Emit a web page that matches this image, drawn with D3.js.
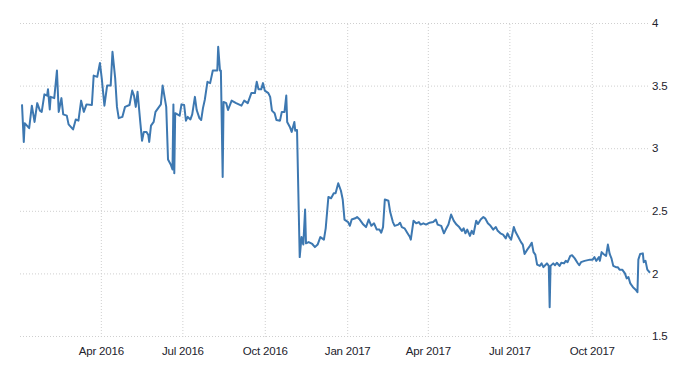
<!DOCTYPE html>
<html>
<head>
<meta charset="utf-8">
<script src="https://cdn.jsdelivr.net/npm/d3@7"></script>
<style>
  body { margin: 0; background: #fff; }
  #chart text { font-family: "Liberation Sans Narrow", "Arial Narrow", "Liberation Sans", Arial, sans-serif; font-size: 11.5px; letter-spacing: -0.2px; fill: #22222c; }
</style>
</head>
<body>
<div id="chart"></div>
<script>
const dates = [
  '2016-01-04','2016-01-06','2016-01-07','2016-01-12','2016-01-15','2016-01-18','2016-01-21','2016-01-24','2016-01-26','2016-01-29',
  '2016-02-01','2016-02-02','2016-02-04','2016-02-05','2016-02-09','2016-02-12','2016-02-14','2016-02-17','2016-02-19','2016-02-23',
  '2016-02-25','2016-03-01','2016-03-04','2016-03-07','2016-03-10','2016-03-13','2016-03-16','2016-03-22','2016-03-24','2016-03-28',
  '2016-03-31','2016-04-02','2016-04-05','2016-04-08','2016-04-12','2016-04-14','2016-04-17','2016-04-19','2016-04-21','2016-04-25',
  '2016-04-28','2016-05-03','2016-05-06','2016-05-08','2016-05-10','2016-05-12','2016-05-15','2016-05-17','2016-05-19','2016-05-22',
  '2016-05-24','2016-05-25','2016-05-27','2016-05-30','2016-06-01','2016-06-04','2016-06-07','2016-06-09','2016-06-13','2016-06-15',
  '2016-06-18','2016-06-20','2016-06-21','2016-06-22','2016-06-23','2016-06-28','2016-06-30','2016-07-03','2016-07-05','2016-07-07',
  '2016-07-10','2016-07-12','2016-07-15','2016-07-17','2016-07-20','2016-07-22','2016-07-24','2016-07-26','2016-07-29','2016-08-01',
  '2016-08-04','2016-08-09','2016-08-10','2016-08-12','2016-08-13','2016-08-15','2016-08-16','2016-08-19','2016-08-21','2016-08-25',
  '2016-08-30','2016-09-05','2016-09-08','2016-09-12','2016-09-16','2016-09-20','2016-09-22','2016-09-24','2016-09-27','2016-09-29',
  '2016-10-01','2016-10-05','2016-10-07','2016-10-09','2016-10-12','2016-10-14','2016-10-18','2016-10-20','2016-10-23','2016-10-25',
  '2016-10-26','2016-10-29','2016-10-31','2016-11-03','2016-11-04','2016-11-06','2016-11-09','2016-11-11','2016-11-13','2016-11-15',
  '2016-11-16','2016-11-19','2016-11-23','2016-11-26','2016-11-29','2016-12-02','2016-12-06','2016-12-08','2016-12-11','2016-12-14',
  '2016-12-17','2016-12-19','2016-12-22','2016-12-25','2016-12-27','2016-12-29','2017-01-02','2017-01-04','2017-01-06','2017-01-10',
  '2017-01-12','2017-01-15','2017-01-19','2017-01-22','2017-01-25','2017-01-28','2017-01-31','2017-02-03','2017-02-06','2017-02-08',
  '2017-02-10','2017-02-12','2017-02-16','2017-02-18','2017-02-21','2017-02-23','2017-02-27','2017-03-01','2017-03-03','2017-03-06',
  '2017-03-09','2017-03-12','2017-03-13','2017-03-16','2017-03-19','2017-03-22','2017-03-24','2017-03-27','2017-03-30','2017-04-03',
  '2017-04-07','2017-04-10','2017-04-12','2017-04-16','2017-04-19','2017-04-21','2017-04-24','2017-04-27','2017-04-30','2017-05-03',
  '2017-05-06','2017-05-09','2017-05-11','2017-05-13','2017-05-15','2017-05-18','2017-05-20','2017-05-22','2017-05-25','2017-05-27',
  '2017-05-30','2017-06-02','2017-06-04','2017-06-07','2017-06-10','2017-06-13','2017-06-16','2017-06-18','2017-06-21','2017-06-24',
  '2017-06-27','2017-06-29','2017-07-01','2017-07-03','2017-07-06','2017-07-08','2017-07-11','2017-07-14','2017-07-16','2017-07-18',
  '2017-07-21','2017-07-24','2017-07-26','2017-07-28','2017-07-30','2017-08-01','2017-08-04','2017-08-06','2017-08-08','2017-08-10',
  '2017-08-12','2017-08-14','2017-08-15','2017-08-16','2017-08-19','2017-08-21','2017-08-23','2017-08-26','2017-08-28','2017-08-31',
  '2017-09-02','2017-09-04','2017-09-07','2017-09-09','2017-09-12','2017-09-15','2017-09-17','2017-09-19','2017-09-23','2017-09-29',
  '2017-10-02','2017-10-04','2017-10-06','2017-10-09','2017-10-10','2017-10-12','2017-10-14','2017-10-17','2017-10-19','2017-10-21',
  '2017-10-23','2017-10-25','2017-10-28','2017-10-30','2017-11-01','2017-11-04','2017-11-07','2017-11-09','2017-11-11','2017-11-13',
  '2017-11-16','2017-11-19','2017-11-21','2017-11-22','2017-11-24','2017-11-27','2017-11-28','2017-11-30','2017-12-02','2017-12-05'
];

const values = [
  3.35, 3.05, 3.20, 3.16, 3.34, 3.21, 3.36, 3.30, 3.29, 3.43,
  3.42, 3.47, 3.31, 3.41, 3.40, 3.62, 3.29, 3.40, 3.27, 3.26,
  3.19, 3.15, 3.23, 3.22, 3.38, 3.29, 3.35, 3.345, 3.58, 3.57,
  3.68, 3.56, 3.34, 3.50, 3.50, 3.77, 3.56, 3.33, 3.24, 3.25,
  3.33, 3.345, 3.46, 3.42, 3.33, 3.45, 3.21, 3.06, 3.13, 3.13,
  3.105, 3.05, 3.18, 3.21, 3.29, 3.32, 3.35, 3.50, 3.33, 2.91,
  2.87, 2.83, 3.35, 2.80, 3.28, 3.26, 3.35, 3.345, 3.22, 3.25,
  3.23, 3.27, 3.41, 3.305, 3.24, 3.225, 3.32, 3.385, 3.53, 3.52,
  3.62, 3.62, 3.81, 3.62, 3.62, 2.77, 3.37, 3.36, 3.305, 3.38,
  3.36, 3.34, 3.38, 3.36, 3.44, 3.44, 3.53, 3.47, 3.47, 3.52,
  3.46, 3.44, 3.41, 3.30, 3.28, 3.225, 3.22, 3.29, 3.29, 3.42,
  3.21, 3.17, 3.13, 3.21, 3.14, 3.145, 2.13, 2.29, 2.23, 2.51,
  2.24, 2.25, 2.235, 2.21, 2.23, 2.29, 2.27, 2.36, 2.61, 2.60,
  2.64, 2.64, 2.72, 2.66, 2.59, 2.43, 2.41, 2.38, 2.43, 2.44,
  2.45, 2.43, 2.39, 2.37, 2.43, 2.38, 2.40, 2.35, 2.35, 2.325,
  2.37, 2.59, 2.58, 2.49, 2.41, 2.38, 2.39, 2.405, 2.37, 2.36,
  2.325, 2.29, 2.27, 2.42, 2.40, 2.41, 2.39, 2.40, 2.39, 2.405,
  2.41, 2.43, 2.39, 2.38, 2.32, 2.35, 2.39, 2.47, 2.42, 2.39,
  2.37, 2.34, 2.36, 2.32, 2.35, 2.30, 2.34, 2.315, 2.42, 2.395,
  2.43, 2.45, 2.44, 2.40, 2.38, 2.35, 2.37, 2.34, 2.32, 2.31,
  2.28, 2.32, 2.29, 2.27, 2.37, 2.33, 2.29, 2.25, 2.23, 2.155,
  2.19, 2.22, 2.245, 2.17, 2.15, 2.07, 2.06, 2.08, 2.05, 2.065,
  2.08, 2.06, 1.73, 2.06, 2.08, 2.065, 2.085, 2.06, 2.085, 2.08,
  2.10, 2.09, 2.14, 2.145, 2.12, 2.085, 2.065, 2.09, 2.10, 2.11,
  2.11, 2.13, 2.10, 2.13, 2.10, 2.17, 2.155, 2.14, 2.23, 2.155,
  2.12, 2.06, 2.05, 2.05, 2.03, 2.03, 2.00, 1.96, 1.97, 1.92,
  1.89, 1.87, 1.85, 2.11, 2.155, 2.16, 2.09, 2.10, 2.03, 2.005
];

const yTicks = [1.5, 2, 2.5, 3, 3.5, 4];

const width = 700;
const height = 375;
const margin = { top: 23, right: 50, bottom: 39, left: 22 };

const parse = d3.timeParse('%Y-%m-%d');
const data = dates.map((d, i) => ({ date: parse(d), value: values[i] }));

const svg = d3.select('#chart')
  .append('svg')
  .attr('width', width)
  .attr('height', height);

const x = d3.scaleTime()
  .domain(d3.extent(data, d => d.date))
  .range([margin.left, width - margin.right]);

const y = d3.scaleLinear()
  .domain([1.5, 4])
  .range([height - margin.bottom, margin.top]);

const gridColor = '#cfcfcf';

// horizontal grid + right labels
const yAxis = svg.append('g')
  .attr('transform', `translate(${width - margin.right - 2},0)`)
  .call(d3.axisRight(y).tickValues(yTicks).tickSize(-(width - margin.right - 2 - 20)).tickPadding(4).tickFormat(d3.format('')));
yAxis.select('.domain').remove();
yAxis.selectAll('.tick line')
  .attr('stroke', gridColor)
  .attr('stroke-dasharray', '1,2');

// vertical grid + bottom labels
const xAxis = svg.append('g')
  .attr('transform', `translate(0,${height - margin.bottom + 1})`)
  .call(d3.axisBottom(x).ticks(d3.timeMonth.every(3)).tickFormat(d3.timeFormat('%b %Y'))
    .tickSize(-(height - margin.bottom - margin.top + 1)).tickPadding(10));
xAxis.select('.domain').remove();
xAxis.selectAll('.tick line')
  .attr('stroke', gridColor)
  .attr('stroke-dasharray', '1,2');

const line = d3.line()
  .x(d => x(d.date))
  .y(d => y(d.value));

svg.append('path')
  .datum(data)
  .attr('fill', 'none')
  .attr('stroke', '#3d78b1')
  .attr('stroke-width', 2)
  .attr('stroke-linejoin', 'round')
  .attr('d', line);
</script>
</body>
</html>
